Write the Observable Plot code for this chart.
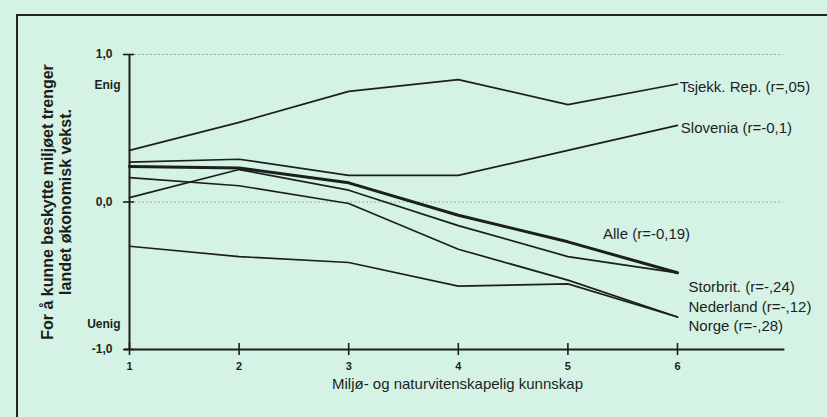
<!DOCTYPE html>
<html>
<head>
<meta charset="utf-8">
<script src="https://cdn.jsdelivr.net/npm/d3@7"></script>
<script src="https://cdn.jsdelivr.net/npm/@observablehq/plot@0.6"></script>
<style>
  html, body { margin: 0; padding: 0; background: #d5f3e5; width: 827px; height: 417px; overflow: hidden; }
  #wrap { position: relative; width: 827px; height: 417px; }
  #frame { position: absolute; left: 16px; top: 14px; right: -10px; bottom: -10px;
           border-top: 2px solid #222; border-left: 2px solid #222; pointer-events: none; }
  svg { position: absolute; left: 0; top: 0; }
</style>
</head>
<body>
<div id="wrap"><div id="frame"></div></div>
<script>
// Knowledge level (x)
const levels = [1, 2, 3, 4, 5, 6];

// Series values (agreement, -1 = Uenig, 1 = Enig)
const tsjekk    = [0.35, 0.54, 0.75, 0.83, 0.66, 0.80];
const slovenia  = [0.27, 0.29, 0.18, 0.18, 0.35, 0.52];
const alle      = [0.24, 0.23, 0.13, -0.09, -0.27, -0.48];
const storbrit  = [0.03, 0.22, 0.08, -0.16, -0.37, -0.48];
const nederland = [0.165, 0.11, -0.01, -0.32, -0.53, -0.78];
const norge     = [-0.30, -0.37, -0.41, -0.57, -0.555, -0.78];

const seriesNames = ["Tsjekk. Rep.", "Slovenia", "Alle", "Storbrit.", "Nederland", "Norge"];
const seriesValues = [tsjekk, slovenia, alle, storbrit, nederland, norge];

// Series labels and where they sit (data coordinates)
const labelTexts = ["Tsjekk. Rep. (r=,05)", "Slovenia (r=-0,1)", "Alle (r=-0,19)",
                    "Storbrit. (r=-,24)", "Nederland (r=-,12)", "Norge (r=-,28)"];
const labelX = [6.02, 6.03, 5.32, 6.10, 6.10, 6.10];
const labelY = [0.78, 0.50, -0.22, -0.575, -0.71, -0.84];

// Axis ticks
const yTicks = [-1, 0, 1];
const yTickLabels = ["-1,0", "0,0", "1,0"];
const xTicks = [1, 2, 3, 4, 5, 6];
const gridValues = [1, 0];
const endLabels = ["Enig", "Uenig"];
const endLabelY = [0.79, -0.83];

const xTitle = "Miljø- og naturvitenskapelig kunnskap";
const yTitle = "For å kunne beskytte miljøet trenger\nlandet økonomisk vekst.";

const rows = [];
seriesNames.forEach((name, i) => {
  seriesValues[i].forEach((v, j) => rows.push({series: name, x: levels[j], y: v}));
});
const labels = labelTexts.map((t, i) => ({text: t, x: labelX[i], y: labelY[i]}));
const ends = endLabels.map((t, i) => ({text: t, y: endLabelY[i]}));

const ink = "#1c1f1e";
const font = "'Liberation Sans', Arial, Helvetica, sans-serif";

const chart = Plot.plot({
  width: 827,
  height: 417,
  marginLeft: 129,
  marginRight: 150,
  marginTop: 54,
  marginBottom: 68,
  x: {domain: [1, 6], axis: null},
  y: {domain: [-1, 1], axis: null},
  style: {background: "transparent", fontFamily: font, color: ink, overflow: "visible"},
  marks: [
    // dotted gridlines
    Plot.ruleY(gridValues, {x1: 1.05, x2: 6.97, stroke: "#8a9a92", strokeWidth: 1, strokeDasharray: "1.5,2.5"}),
    // axis lines
    Plot.ruleX([1], {y1: -1, y2: 1, stroke: ink, strokeWidth: 2}),
    Plot.ruleY([-1], {x1: 0.955, x2: 6.98, stroke: ink, strokeWidth: 2}),
    // y tick marks crossing the axis
    Plot.axisY({ticks: yTicks, tickSize: 11, dx: 5, tickFormat: () => "", label: null, stroke: ink, strokeWidth: 1.6}),
    Plot.axisY({ticks: yTicks, tickSize: 0, tickPadding: 17, label: null,
                tickFormat: (d) => yTickLabels[yTicks.indexOf(d)],
                fontWeight: "bold", fontSize: 12, fill: ink, style: "letter-spacing:1px"}),
    // x tick marks crossing the axis
    Plot.axisX({ticks: xTicks, tickSize: 12, dy: -6, tickFormat: () => "", label: null, stroke: ink, strokeWidth: 1.6}),
    Plot.axisX({ticks: xTicks, tickSize: 0, tickPadding: 13, label: null, tickFormat: (d) => String(d),
                fontWeight: "bold", fontSize: 11, fill: ink}),
    // Enig / Uenig
    Plot.text(ends, {x: 1, y: "y", text: "text", textAnchor: "end", dx: -9,
                     fontWeight: "bold", fontSize: 12, fill: ink, style: "letter-spacing:1.2px"}),
    // data lines
    Plot.line(rows.filter(d => d.series !== "Alle"), {x: "x", y: "y", z: "series", stroke: ink, strokeWidth: 1.7, strokeLinejoin: "miter"}),
    Plot.line(rows.filter(d => d.series === "Alle"), {x: "x", y: "y", stroke: ink, strokeWidth: 3, strokeLinejoin: "miter"}),
    // series labels
    Plot.text(labels, {x: "x", y: "y", text: "text", textAnchor: "start", fontSize: 15, fill: ink,
                       style: "letter-spacing:0.5px"}),
    // axis titles
    Plot.text([xTitle], {frameAnchor: "bottom", dx: 54, dy: 35, lineAnchor: "middle", textAnchor: "middle",
                         fontSize: 15, fill: ink, style: "letter-spacing:0.2px"}),
    Plot.text([yTitle], {frameAnchor: "left", dx: -73, rotate: -90, textAnchor: "middle", lineAnchor: "middle",
                         fontSize: 16, fontWeight: "bold", lineHeight: 1.08, fill: ink})
  ]
});
document.getElementById("wrap").appendChild(chart);
</script>
</body>
</html>
